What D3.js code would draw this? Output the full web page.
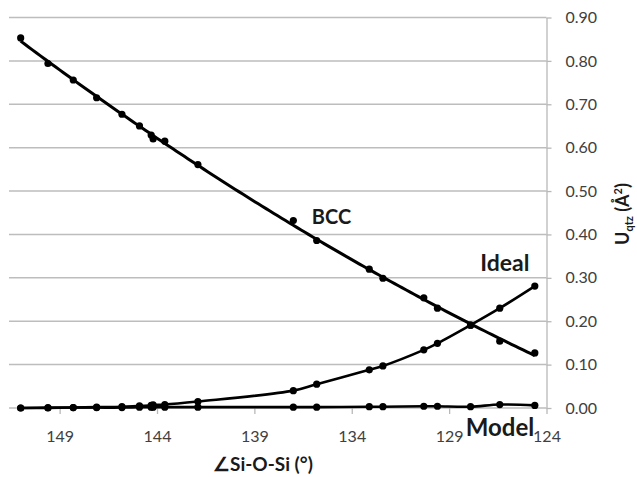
<!DOCTYPE html>
<html>
<head>
<meta charset="utf-8">
<script src="https://cdn.jsdelivr.net/npm/d3@7"></script>
<style>
  body { margin: 0; background: #fff; }
  text { font-family: Lato, "Open Sans", sans-serif; }
</style>
</head>
<body>
<div id="chart"></div>
<script>
// Si-O-Si angle (deg) and Uqtz values for each curve
const angle = [151.0, 149.6, 148.3, 147.1, 145.8, 144.9, 144.3, 144.2, 143.6, 141.9,
  137.0, 135.8, 133.1, 132.4, 130.3, 129.6, 127.9, 126.4, 124.6];
const bcc = [0.853, 0.794, 0.756, 0.715, 0.677, 0.650, 0.629, 0.620, 0.615, 0.561,
  0.432, 0.386, 0.320, 0.299, 0.254, 0.230, 0.191, 0.154, 0.127];
const ideal = [0.000, 0.001, 0.001, 0.002, 0.003, 0.005, 0.006, 0.007, 0.008, 0.015,
  0.040, 0.055, 0.088, 0.097, 0.134, 0.149, 0.191, 0.230, 0.281];
const model = [0.000, 0.000, 0.001, 0.001, 0.001, 0.002, 0.002, 0.002, 0.002, 0.002,
  0.002, 0.002, 0.003, 0.003, 0.004, 0.004, 0.003, 0.008, 0.006];
const xTicks = [149, 144, 139, 134, 129, 124];
const yTicks = [0, 0.1, 0.2, 0.3, 0.4, 0.5, 0.6, 0.7, 0.8, 0.9];

const width = 637;
const height = 477;
const plotLeft = 9;
const plotRight = 546.5;
const plotTop = 17.5;
const plotBottom = 408;

const svg = d3.select('#chart').append('svg')
    .attr('width', width)
    .attr('height', height);

const x = d3.scaleLinear().domain([151.6, 124]).range([plotLeft, plotRight]);
const y = d3.scaleLinear().domain([0, 0.9]).range([plotBottom, plotTop]);

// horizontal gridlines + right axis
svg.append('g')
    .selectAll('line')
    .data(yTicks)
    .enter()
    .append('line')
    .attr('x1', plotLeft)
    .attr('x2', plotRight)
    .attr('y1', (d) => y(d))
    .attr('y2', (d) => y(d))
    .attr('stroke', '#bdbdbd')
    .attr('stroke-width', 1.5);

svg.append('g')
    .attr('transform', 'translate(' + plotRight + ',0)')
    .call(d3.axisRight(y).tickValues(yTicks).tickSize(5).tickPadding(14)
        .tickSizeOuter(0).tickFormat(d3.format('.2f')))
    .call((g) => g.select('.domain').attr('stroke', '#b8b8b8').attr('stroke-width', 1.3))
    .call((g) => g.selectAll('.tick line').attr('stroke', '#b8b8b8').attr('stroke-width', 1.3))
    .call((g) => g.selectAll('.tick text').attr('fill', '#404040')
        .attr('font-size', 16).style('font-family', 'Lato, sans-serif'));

// bottom axis
svg.append('g')
    .attr('transform', 'translate(0,' + plotBottom + ')')
    .call(d3.axisBottom(x).tickValues(xTicks).tickSize(6).tickPadding(17).tickSizeOuter(0))
    .call((g) => g.select('.domain').remove())
    .call((g) => g.selectAll('.tick line').attr('stroke', '#b8b8b8').attr('stroke-width', 1.3))
    .call((g) => g.selectAll('.tick text').attr('fill', '#404040')
        .attr('font-size', 16).style('font-family', 'Lato, sans-serif'));

const pts = (vals) => angle.map((a, i) => ({x: a, y: vals[i]}));

// BCC: quadratic trendline (least squares), like the spreadsheet trend
function polyFit2(xs, ys) {
  const m = d3.mean(xs);
  const s = [0, 0, 0, 0, 0];
  const t = [0, 0, 0];
  xs.forEach((xv, i) => {
    const u = xv - m;
    for (let k = 0; k < 5; k++) s[k] += Math.pow(u, k);
    for (let k = 0; k < 3; k++) t[k] += ys[i] * Math.pow(u, k);
  });
  const A = [[s[0], s[1], s[2], t[0]], [s[1], s[2], s[3], t[1]], [s[2], s[3], s[4], t[2]]];
  for (let i = 0; i < 3; i++) {
    for (let j = i + 1; j < 3; j++) {
      const f = A[j][i] / A[i][i];
      for (let k = i; k < 4; k++) A[j][k] -= f * A[i][k];
    }
  }
  const c = [0, 0, 0];
  for (let i = 2; i >= 0; i--) {
    let v = A[i][3];
    for (let k = i + 1; k < 3; k++) v -= A[i][k] * c[k];
    c[i] = v / A[i][i];
  }
  return (xv) => c[0] + c[1] * (xv - m) + c[2] * (xv - m) * (xv - m);
}
const bccFit = polyFit2(angle, bcc);
const fitX = d3.range(d3.max(angle), d3.min(angle) - 0.01, -0.2);

const straight = d3.line()
    .x((d) => x(d))
    .y((d) => y(bccFit(d)));

svg.append('path')
    .datum(fitX)
    .attr('d', straight)
    .attr('fill', 'none')
    .attr('stroke', '#000')
    .attr('stroke-width', 3);

const line = d3.line()
    .x((d) => x(d.x))
    .y((d) => y(d.y))
    .curve(d3.curveCatmullRom.alpha(0.5));

svg.append('path')
    .datum(pts(ideal))
    .attr('d', line)
    .attr('fill', 'none')
    .attr('stroke', '#000')
    .attr('stroke-width', 2.6);

svg.append('path')
    .datum(pts(model))
    .attr('d', line)
    .attr('fill', 'none')
    .attr('stroke', '#000')
    .attr('stroke-width', 2.6);

for (const vals of [bcc, ideal, model]) {
  svg.append('g')
      .selectAll('circle')
      .data(pts(vals))
      .enter()
      .append('circle')
      .attr('cx', (d) => x(d.x))
      .attr('cy', (d) => y(d.y))
      .attr('r', 3.6)
      .attr('fill', '#000');
}

// curve labels
const label = (txt, ax, val, size) => svg.append('text')
    .attr('x', x(ax))
    .attr('y', y(val))
    .attr('font-size', size)
    .attr('font-weight', 'bold')
    .attr('fill', '#1a1a1a')
    .text(txt);
label('BCC', 136.05, 0.425, 20);
label('Ideal', 127.4, 0.315, 23);
label('Model', 128.15, -0.065, 24);

// axis titles
svg.append('text')
    .attr('x', 263)
    .attr('y', 471)
    .attr('text-anchor', 'middle')
    .attr('font-size', 19)
    .attr('font-weight', 'bold')
    .attr('fill', '#1a1a1a')
    .text('∠Si-O-Si (°)');

const yt = svg.append('text')
    .attr('transform', 'translate(629,214) rotate(-90)')
    .attr('text-anchor', 'middle')
    .attr('font-size', 18)
    .attr('font-weight', 'bold')
    .attr('fill', '#1a1a1a');
yt.append('tspan').text('U');
yt.append('tspan').attr('font-size', 11).attr('dy', 4).text('qtz');
yt.append('tspan').attr('dy', -4).text(' (Å');
yt.append('tspan').attr('font-size', 11).attr('dy', -7).text('2');
yt.append('tspan').attr('dy', 7).text(')');
</script>
</body>
</html>
